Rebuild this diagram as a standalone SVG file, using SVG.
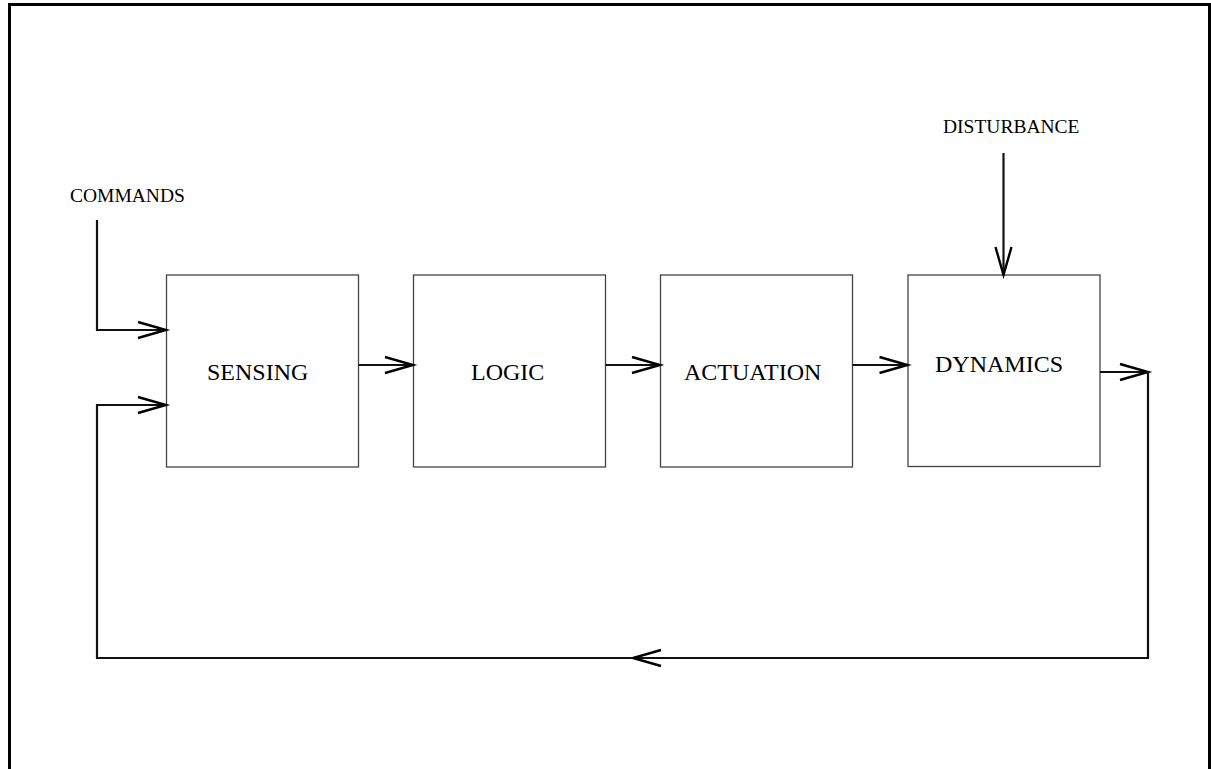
<svg xmlns="http://www.w3.org/2000/svg" width="1211" height="769" viewBox="0 0 1211 769">
<style>
.box{fill:#fff;stroke:#444;stroke-width:1.3}
.lbl{font-family:"Liberation Serif","Times New Roman",serif;font-size:24px;fill:#000}
.sm{font-family:"Liberation Serif","Times New Roman",serif;font-size:19.5px;fill:#000}
.con{fill:none;stroke:#111;stroke-width:2.2}
</style>
<defs>
<marker id="ah" markerUnits="userSpaceOnUse" viewBox="-31 -11 33 22" refX="0" refY="0" markerWidth="33" markerHeight="22" orient="auto" overflow="visible">
<path d="M-28,-8 L0,0 L-28,8" fill="none" stroke="#000" stroke-width="2.4"/>
</marker>
</defs>
<rect x="0" y="0" width="1211" height="769" fill="#fff"/>
<rect id="frame" x="9.5" y="4.5" width="1200" height="800" fill="none" stroke="#000" stroke-width="3"/>
<g id="sensing"><rect class="box" x="166.5" y="275" width="192" height="192"/><text class="lbl" x="207" y="379.5">SENSING</text></g>
<g id="logic"><rect class="box" x="413.5" y="275" width="192" height="192"/><text class="lbl" x="471" y="379.5">LOGIC</text></g>
<g id="actuation"><rect class="box" x="660.5" y="275" width="192" height="192"/><text class="lbl" x="684" y="379.5">ACTUATION</text></g>
<g id="dynamics"><rect class="box" x="908" y="275" width="192" height="191.5"/><text class="lbl" x="935" y="372">DYNAMICS</text></g>
<g id="commands"><text class="sm" x="70" y="202">COMMANDS</text></g>
<g id="disturbance"><text class="sm" x="943" y="132.5">DISTURBANCE</text></g>
<g id="connectors">
<path class="con" d="M97,220 V330 H166" marker-end="url(#ah)"/>
<path class="con" d="M1003.5,153 V275" marker-end="url(#ah)"/>
<path class="con" d="M358.5,365 H413" marker-end="url(#ah)"/>
<path class="con" d="M605.5,365 H660" marker-end="url(#ah)"/>
<path class="con" d="M852.5,365 H907.5" marker-end="url(#ah)"/>
<path class="con" d="M1100,372 H1148" marker-end="url(#ah)"/>
<path class="con" d="M1148,372 V658 H633" marker-end="url(#ah)"/>
<path class="con" d="M633,658 H97 V405 H166" marker-end="url(#ah)"/>
</g>
</svg>
